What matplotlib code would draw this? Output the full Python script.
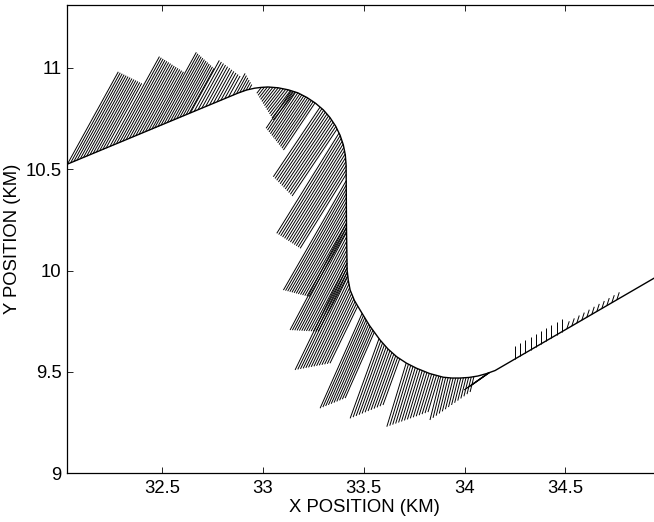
"""
Aircraft track with sampled vectors drawn from the track (hatched teeth).
"""
import numpy as np
import matplotlib
matplotlib.use("Agg")
import matplotlib.pyplot as plt
from matplotlib.collections import LineCollection

# --- track (km) ---
track_x = [32.026, 32.876, 32.918, 32.958, 32.991, 33.025, 33.075, 33.125,
           33.173, 33.218, 33.260, 33.299, 33.332, 33.360, 33.382, 33.398,
           33.408, 33.412, 33.414, 33.417, 33.423, 33.432, 33.453, 33.481,
           33.528, 33.580, 33.620, 33.663, 33.712, 33.762, 33.827, 33.894,
           33.936, 33.977, 34.022, 34.066, 34.109, 34.151, 34.980]
track_y = [10.524, 10.876, 10.891, 10.900, 10.904, 10.906, 10.902, 10.892,
           10.877, 10.854, 10.826, 10.793, 10.755, 10.713, 10.668, 10.621,
           10.571, 10.521, 10.200, 10.003, 9.951, 9.904, 9.853, 9.806,
           9.729, 9.658, 9.613, 9.575, 9.543, 9.518, 9.492, 9.474,
           9.470, 9.470, 9.473, 9.480, 9.492, 9.507, 9.986]

# --- vector groups: tips of first / last vector, vector direction (deg), count ---
tip_x0 = [32.282, 32.486, 32.669, 32.783, 32.911,
          32.969, 33.015, 33.051, 33.068, 33.101, 33.134, 33.159,
          33.283, 33.432, 33.614, 33.828, 33.997,
          34.250, 34.519]
tip_y0 = [10.981, 11.056, 11.077, 11.037, 10.973,
          10.875, 10.702, 10.463, 10.184, 9.904, 9.707, 9.510,
          9.321, 9.271, 9.230, 9.263, 9.411,
          9.628, 9.750]
tip_x1 = [32.398, 32.605, 32.757, 32.886, 32.944,
          33.051, 33.101, 33.144, 33.184, 33.228, 33.273, 33.332,
          33.407, 33.595, 33.818, 34.027, 34.037,
          34.482, 34.767]
tip_y1 = [10.924, 10.981, 10.998, 10.960, 10.918,
          10.743, 10.595, 10.368, 10.110, 9.871, 9.699, 9.543,
          9.371, 9.337, 9.302, 9.401, 9.436,
          9.760, 9.893]
vec_dir = [61, 61, 61, 61, 61,
           232, 236, 236, 238, 240, 242, 244,
           246, 250, 253, 256, 215,
           90, 72]
vec_count = [13, 14, 12, 11, 6,
             14, 13, 12, 13, 13, 13, 14,
             10, 12, 15, 14, 5,
             10, 11]

x_ticks = [32.5, 33, 33.5, 34, 34.5]
y_ticks = [9, 9.5, 10, 10.5, 11]


def base_on_track(px, py, dx, dy):
    """Walk back from a tip along -direction until it meets the track."""
    best = None
    for i in range(len(track_x) - 1):
        ax_, ay_ = track_x[i], track_y[i]
        bx, by = track_x[i + 1], track_y[i + 1]
        ex, ey = bx - ax_, by - ay_
        # px - t*dx = ax + u*ex ; py - t*dy = ay + u*ey
        det = (-dx) * (-ey) - (-ex) * (-dy)
        if abs(det) < 1e-12:
            continue
        rx, ry = ax_ - px, ay_ - py
        t = (rx * (-ey) - (-ex) * ry) / det
        u = ((-dx) * ry - (-dy) * rx) / det
        if t > 0 and -1e-6 <= u <= 1 + 1e-6:
            if best is None or t < best:
                best = t
    if best is None:
        best = 0.0
    return px - best * dx, py - best * dy


segments = []
for k in range(len(vec_count)):
    a = np.deg2rad(vec_dir[k])
    dx, dy = np.cos(a), np.sin(a)
    tx = np.linspace(tip_x0[k], tip_x1[k], vec_count[k])
    ty = np.linspace(tip_y0[k], tip_y1[k], vec_count[k])
    for x_tip, y_tip in zip(tx, ty):
        bx, by = base_on_track(x_tip, y_tip, dx, dy)
        segments.append([(bx, by), (x_tip, y_tip)])

plt.rcParams['font.family'] = ['Liberation Sans', 'DejaVu Sans']

fig = plt.figure(figsize=(6.54, 5.22), dpi=100)
ax = fig.add_axes([0.102, 0.0933, 0.9087, 0.8977])

ax.add_collection(LineCollection(segments, colors='black', linewidths=0.7))
ax.plot(track_x, track_y, color='black', linewidth=1.0)

ax.set_xlim(32.026, 34.974)
ax.set_ylim(9.0, 11.312)
ax.set_xticks(x_ticks)
ax.set_yticks(y_ticks)
ax.set_xticklabels([f"{v:g}" for v in x_ticks])
ax.set_yticklabels([f"{v:g}" for v in y_ticks])
ax.tick_params(direction='in', length=4, width=0.6, labelsize=13.3,
               top=True, right=True)
ax.tick_params(axis='x', pad=4.5)
ax.tick_params(axis='y', pad=3.6)
for sp in ax.spines.values():
    sp.set_linewidth(0.9)

ax.set_xlabel("X POSITION (KM)", fontsize=13.3, va='center')
ax.xaxis.set_label_coords(0.5003, -0.074)
ax.set_ylabel("Y POSITION (KM)", fontsize=13.3, va='center')
ax.yaxis.set_label_coords(-0.092, 0.5)

fig.savefig("out.png", dpi=100)
